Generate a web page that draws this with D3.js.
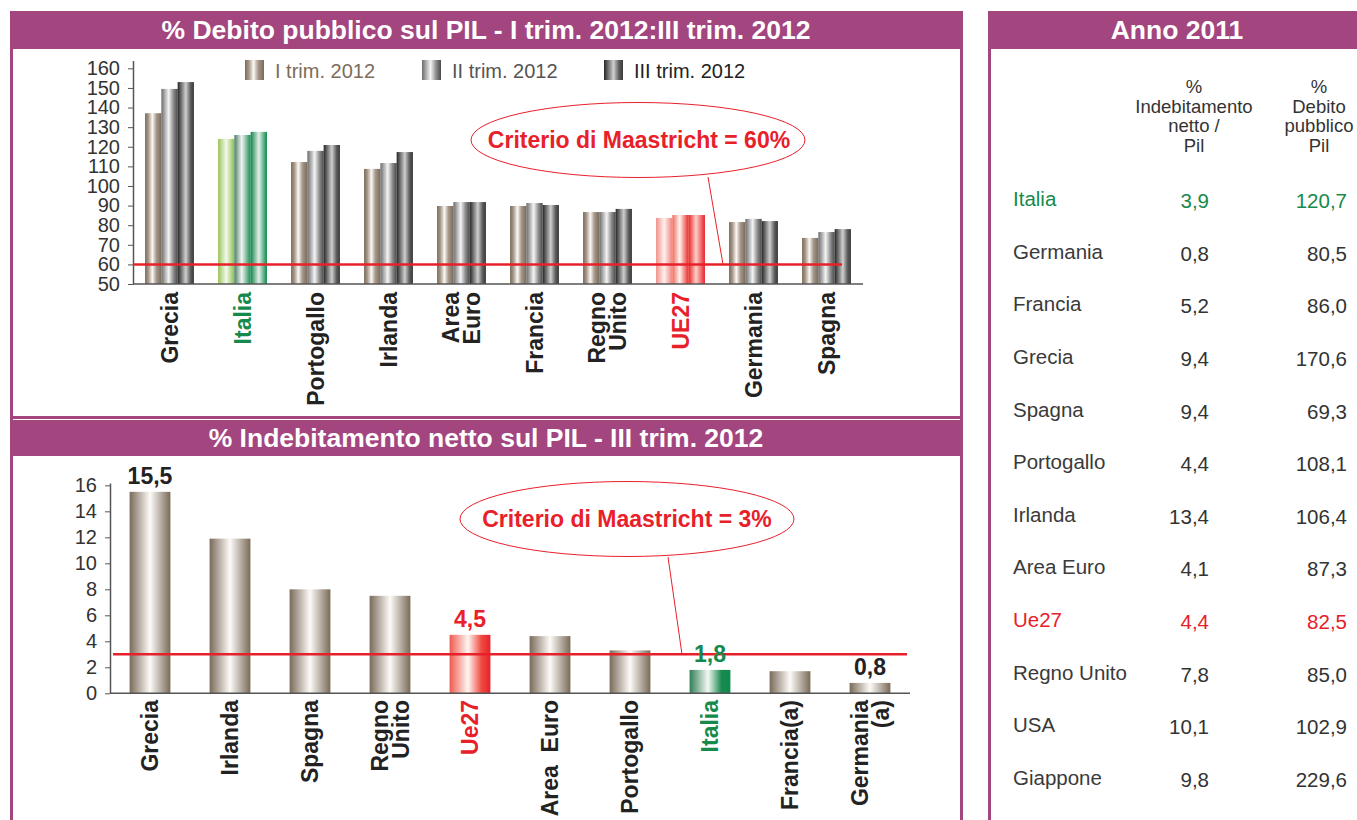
<!DOCTYPE html>
<html>
<head>
<meta charset="utf-8">
<script src="https://cdn.jsdelivr.net/npm/d3@7"></script>
<style>
  body { margin: 0; background: #fff; }
  text { font-family: "Liberation Sans", Arial, sans-serif; }
</style>
</head>
<body>
<div id="svg"></div>
<script>
// top chart: debito pubblico / PIL
var debtCats = ["Grecia", "Italia", "Portogallo", "Irlanda", "Area Euro", "Francia", "Regno Unito", "UE27", "Germania", "Spagna"];
var debtLabels = [["Grecia"], ["Italia"], ["Portogallo"], ["Irlanda"], ["Area", "Euro"], ["Francia"], ["Regno", "Unito"], ["UE27"], ["Germania"], ["Spagna"]];
var trimI   = [137.1, 124.0, 112.2, 108.7, 89.8, 89.8, 86.7, 83.7, 81.6, 73.5];
var trimII  = [149.5, 126.0, 117.9, 111.7, 91.8, 91.3, 86.7, 85.2, 83.2, 76.5];
var trimIII = [153.0, 127.6, 120.9, 117.3, 91.8, 90.3, 88.3, 85.2, 82.1, 78.0];
var seriesNames = ["I trim. 2012", "II trim. 2012", "III trim. 2012"];
var debtTicks = [50, 60, 70, 80, 90, 100, 110, 120, 130, 140, 150, 160];

// bottom chart: indebitamento netto / PIL
var netCats = ["Grecia", "Irlanda", "Spagna", "Regno Unito", "Ue27", "Area Euro", "Portogallo", "Italia", "Francia(a)", "Germania(a)"];
var netLabels = [["Grecia"], ["Irlanda"], ["Spagna"], ["Regno", "Unito"], ["Ue27"], ["Area  Euro"], ["Portogallo"], ["Italia"], ["Francia(a)"], ["Germania", "(a)"]];
var netValues = [15.5, 11.9, 8.0, 7.5, 4.5, 4.4, 3.3, 1.8, 1.7, 0.8];
var netShown = ["15,5", null, null, null, "4,5", null, null, "1,8", null, "0,8"];
var netTicks = [0, 2, 4, 6, 8, 10, 12, 14, 16];

// table Anno 2011
var tabCountries = ["Italia", "Germania", "Francia", "Grecia", "Spagna", "Portogallo", "Irlanda", "Area Euro", "Ue27", "Regno Unito", "USA", "Giappone"];
var tabNet  = [3.9, 0.8, 5.2, 9.4, 9.4, 4.4, 13.4, 4.1, 4.4, 7.8, 10.1, 9.8];
var tabDebt = [120.7, 80.5, 86.0, 170.6, 69.3, 108.1, 106.4, 87.3, 82.5, 85.0, 102.9, 229.6];
var tabHead1 = ["%", "Indebitamento", "netto /", "Pil"];
var tabHead2 = ["%", "Debito", "pubblico", "Pil"];

var purple = "#a3457f", red = "#e8202a", green = "#168a4c", ink = "#333";

var svg = d3.select("#svg").append("svg")
  .attr("width", 1357)
  .attr("height", 820);

// gradients
var defs = svg.append("defs");
function grad(id, stops) {
  var g = defs.append("linearGradient").attr("id", id)
    .attr("x1", 0).attr("x2", 1).attr("y1", 0).attr("y2", 0);
  stops.forEach(function(s) {
    g.append("stop").attr("offset", s[0]).attr("stop-color", s[1]);
  });
}
grad("brownI",  [[0, "#7a6a58"], [0.2, "#a5978a"], [0.45, "#fbf8f4"], [0.7, "#a5978a"], [1, "#7a6a58"]]);
grad("grayII",  [[0, "#6c6c6c"], [0.45, "#f4f4f4"], [0.75, "#8a8a8a"], [1, "#4a4a4a"]]);
grad("darkIII", [[0, "#262626"], [0.5, "#cfcfcf"], [0.8, "#5a5a5a"], [1, "#3a3a3a"]]);
grad("greenI",  [[0, "#98c458"], [0.5, "#f4f9ec"], [1, "#8cbf4e"]]);
grad("greenII", [[0, "#4c7d66"], [0.45, "#f2f5f2"], [1, "#1a8a55"]]);
grad("greenIII",[[0, "#12854d"], [0.5, "#e4efe8"], [1, "#0a8a4b"]]);
grad("redI",    [[0, "#f0918a"], [0.5, "#fff0ee"], [1, "#ef857e"]]);
grad("redII",   [[0, "#f06a5e"], [0.45, "#fff4f0"], [1, "#ea2a28"]]);
grad("redIII",  [[0, "#ea2828"], [0.45, "#fbd0c8"], [1, "#e8202a"]]);
grad("brownB",  [[0, "#7a6a58"], [0.5, "#fdfbf8"], [1, "#7a6a58"]]);
grad("redB",    [[0, "#ee5a4e"], [0.45, "#fff6f2"], [0.78, "#ef4a40"], [1, "#e8202a"]]);
grad("greenB",  [[0, "#2f7f55"], [0.45, "#f4f8f4"], [0.78, "#1b8a50"], [1, "#0b8a4c"]]);

var fills = {
  normal: ["brownI", "grayII", "darkIII"],
  Italia: ["greenI", "greenII", "greenIII"],
  UE27:   ["redI", "redII", "redIII"]
};

// frames and headers
svg.append("rect").attr("x", 10).attr("y", 11).attr("width", 953).attr("height", 38).attr("fill", purple);
svg.append("rect").attr("x", 10).attr("y", 420).attr("width", 953).attr("height", 36).attr("fill", purple);
svg.append("rect").attr("x", 988).attr("y", 11).attr("width", 369).attr("height", 38).attr("fill", purple);
svg.append("line").attr("x1", 11.5).attr("x2", 11.5).attr("y1", 11).attr("y2", 820).attr("stroke", purple).attr("stroke-width", 3);
svg.append("line").attr("x1", 961.5).attr("x2", 961.5).attr("y1", 11).attr("y2", 820).attr("stroke", purple).attr("stroke-width", 3);
svg.append("line").attr("x1", 10).attr("x2", 963).attr("y1", 417.5).attr("y2", 417.5).attr("stroke", purple).attr("stroke-width", 3);
svg.append("line").attr("x1", 989.5).attr("x2", 989.5).attr("y1", 11).attr("y2", 820).attr("stroke", purple).attr("stroke-width", 3);

svg.append("text").attr("x", 486).attr("y", 39).attr("text-anchor", "middle")
  .attr("fill", "#fff").attr("font-weight", "bold").attr("font-size", 26.5)
  .text("% Debito pubblico sul PIL - I trim. 2012:III trim. 2012");
svg.append("text").attr("x", 486).attr("y", 447).attr("text-anchor", "middle")
  .attr("fill", "#fff").attr("font-weight", "bold").attr("font-size", 26.5)
  .text("% Indebitamento netto sul PIL - III trim. 2012");
svg.append("text").attr("x", 1177).attr("y", 39).attr("text-anchor", "middle")
  .attr("fill", "#fff").attr("font-weight", "bold").attr("font-size", 26.5)
  .text("Anno 2011");

function catColor(name) {
  if (name === "Italia") return green;
  if (name === "UE27" || name === "Ue27") return red;
  return "#222";
}

function catLabels(g, x, cats, labels, yTop) {
  cats.forEach(function(c, i) {
    var cx = x(c) + x.bandwidth() / 2;
    var lines = labels[i];
    var t = g.append("g").attr("transform", "translate(" + cx + "," + yTop + ") rotate(-90)");
    lines.forEach(function(l, j) {
      var off = (j - (lines.length - 1) / 2) * 21 + 8;
      t.append("text").attr("x", 0).attr("y", off)
        .attr("text-anchor", "end")
        .attr("font-size", 23).attr("font-weight", "bold")
        .attr("fill", catColor(c))
        .style("white-space", "pre")
        .text(l);
    });
  });
}

function styleAxis(g) {
  g.selectAll("path").attr("stroke", "#555").attr("stroke-width", 1.5);
  g.selectAll("line").attr("stroke", "#555");
  g.selectAll("text").attr("font-size", 20).attr("fill", ink)
    .attr("font-family", "'Liberation Sans', Arial, sans-serif");
}

// ---------- top chart ----------
var x1 = d3.scaleBand().domain(debtCats).range([133, 863]).paddingInner(0.33).paddingOuter(0.165);
var y1 = d3.scaleLinear().domain([50, 164]).range([284, 60.5]);
var xs1 = d3.scaleBand().domain([0, 1, 2]).range([0, x1.bandwidth()]);

var topG = svg.append("g");
var series = [trimI, trimII, trimIII];
series.forEach(function(vals, s) {
  topG.selectAll(".bar" + s).data(debtCats).enter().append("rect")
    .attr("class", "bar" + s)
    .attr("x", function(d) { return x1(d) + xs1(s); })
    .attr("y", function(d, i) { return y1(vals[i]); })
    .attr("width", xs1.bandwidth())
    .attr("height", function(d, i) { return y1(50) - y1(vals[i]); })
    .attr("fill", function(d) { return "url(#" + (fills[d] || fills.normal)[s] + ")"; });
});

var ya1 = topG.append("g").attr("transform", "translate(133,0)")
  .call(d3.axisLeft(y1).tickValues(debtTicks).tickSize(5).tickSizeOuter(0).tickPadding(8));
styleAxis(ya1);
topG.append("line").attr("x1", 133).attr("x2", 863).attr("y1", y1(50)).attr("y2", y1(50))
  .attr("stroke", "#555").attr("stroke-width", 1.5);

// soglia 60%
topG.append("line").attr("x1", 133).attr("x2", 842).attr("y1", y1(60)).attr("y2", y1(60))
  .attr("stroke", red).attr("stroke-width", 2.5);

// legend
var legX = [245, 422, 604];
var legColors = ["#7d6c5a", "#555", "#222"];
seriesNames.forEach(function(n, s) {
  topG.append("rect").attr("x", legX[s]).attr("y", 60).attr("width", 19).attr("height", 20)
    .attr("fill", "url(#" + fills.normal[s] + ")");
  topG.append("text").attr("x", legX[s] + 30).attr("y", 78).attr("font-size", 20)
    .attr("fill", legColors[s]).text(n);
});

// callout
topG.append("line").attr("x1", 708).attr("y1", 177).attr("x2", 723).attr("y2", y1(60))
  .attr("stroke", red).attr("stroke-width", 1);
topG.append("ellipse").attr("cx", 638).attr("cy", 140).attr("rx", 167).attr("ry", 37.5)
  .attr("fill", "#fff").attr("stroke", red).attr("stroke-width", 1);
topG.append("text").attr("x", 639).attr("y", 148).attr("text-anchor", "middle")
  .attr("font-size", 23).attr("font-weight", "bold").attr("fill", red)
  .text("Criterio di Maastricht = 60%");

catLabels(topG, x1, debtCats, debtLabels, 292);

// ---------- bottom chart ----------
var x2 = d3.scaleBand().domain(netCats).range([110, 910]).paddingInner(0.49).paddingOuter(0.245);
var y2 = d3.scaleLinear().domain([0, 16.18]).range([693.3, 483]);
var botG = svg.append("g");

botG.selectAll(".nbar").data(netCats).enter().append("rect")
  .attr("class", "nbar")
  .attr("x", function(d) { return x2(d); })
  .attr("y", function(d, i) { return y2(netValues[i]); })
  .attr("width", x2.bandwidth())
  .attr("height", function(d, i) { return y2(0) - y2(netValues[i]); })
  .attr("fill", function(d) {
    if (d === "Italia") return "url(#greenB)";
    if (d === "Ue27") return "url(#redB)";
    return "url(#brownB)";
  });

var ya2 = botG.append("g").attr("transform", "translate(110,0)")
  .call(d3.axisLeft(y2).tickValues(netTicks).tickSize(5).tickSizeOuter(0).tickPadding(8));
styleAxis(ya2);
botG.append("line").attr("x1", 110).attr("x2", 910).attr("y1", y2(0)).attr("y2", y2(0))
  .attr("stroke", "#555").attr("stroke-width", 1.5);

botG.append("line").attr("x1", 113).attr("x2", 907).attr("y1", y2(3)).attr("y2", y2(3))
  .attr("stroke", red).attr("stroke-width", 2.5);

netCats.forEach(function(c, i) {
  if (!netShown[i]) return;
  botG.append("text")
    .attr("x", x2(c) + x2.bandwidth() / 2)
    .attr("y", y2(netValues[i]) - 8)
    .attr("text-anchor", "middle")
    .attr("font-size", 23).attr("font-weight", "bold")
    .attr("fill", catColor(c))
    .text(netShown[i]);
});

botG.append("line").attr("x1", 668).attr("y1", 557).attr("x2", 682).attr("y2", y2(3))
  .attr("stroke", red).attr("stroke-width", 1);
botG.append("ellipse").attr("cx", 627).attr("cy", 519).attr("rx", 167).attr("ry", 37.5)
  .attr("fill", "#fff").attr("stroke", red).attr("stroke-width", 1);
botG.append("text").attr("x", 627).attr("y", 527).attr("text-anchor", "middle")
  .attr("font-size", 23).attr("font-weight", "bold").attr("fill", red)
  .text("Criterio di Maastricht = 3%");

catLabels(botG, x2, netCats, netLabels, 700);

// ---------- table ----------
var tab = svg.append("g");
var fmt = function(v) { return d3.format(".1f")(v).replace(".", ","); };
var rowY = d3.scaleLinear().domain([0, tabCountries.length - 1]).range([199, 778]);

// header lines stacked tightly like the reference
tabHead1.forEach(function(h, i) {
  tab.append("text").attr("x", 1194).attr("y", 93 + i * 19.5).attr("text-anchor", "middle")
    .attr("font-size", 18.5).attr("fill", ink).text(h);
});
tabHead2.forEach(function(h, i) {
  tab.append("text").attr("x", 1319).attr("y", 93 + i * 19.5).attr("text-anchor", "middle")
    .attr("font-size", 18.5).attr("fill", ink).text(h);
});

tabCountries.forEach(function(c, i) {
  var col = c === "Italia" ? green : (c === "Ue27" ? red : ink);
  var y = rowY(i);
  tab.append("text").attr("x", 1013).attr("y", y + 7).attr("font-size", 20.5)
    .attr("fill", c === "Italia" || c === "Ue27" ? col : "#3a3a3a").text(c);
  tab.append("text").attr("x", 1209).attr("y", y + 9).attr("text-anchor", "end")
    .attr("font-size", 20.5).attr("fill", col).text(fmt(tabNet[i]));
  tab.append("text").attr("x", 1347).attr("y", y + 9).attr("text-anchor", "end")
    .attr("font-size", 20.5).attr("fill", col).text(fmt(tabDebt[i]));
});
</script>
</body>
</html>
